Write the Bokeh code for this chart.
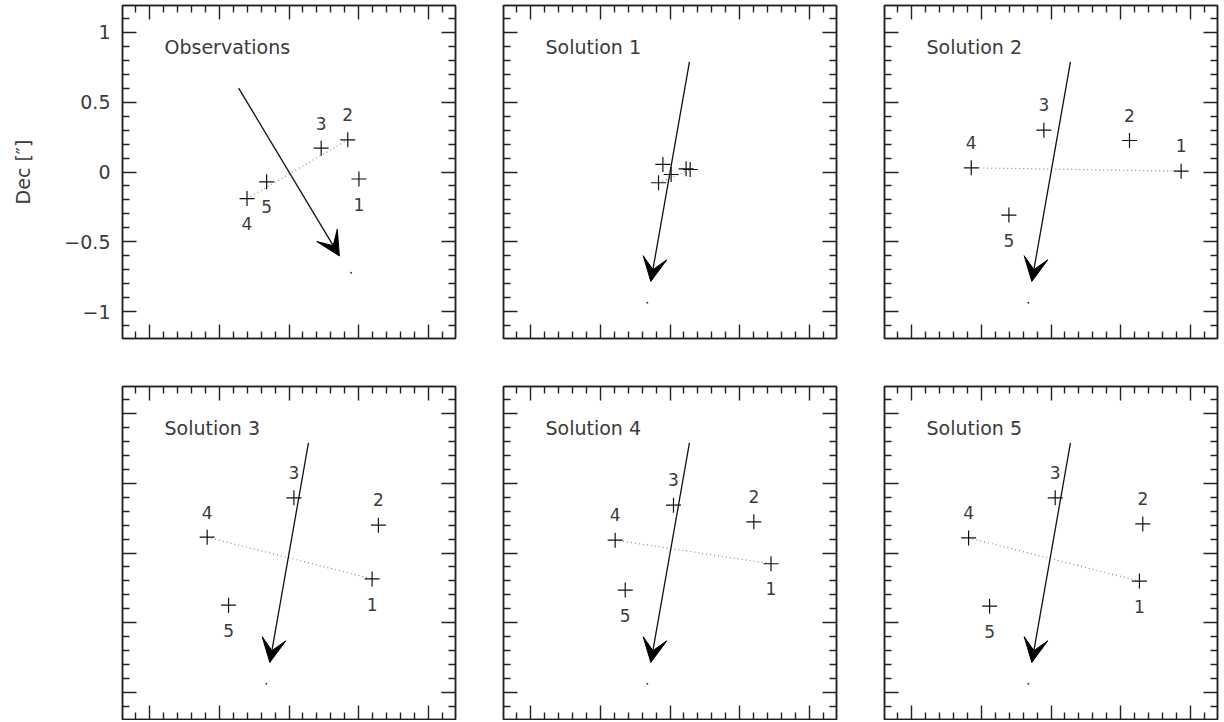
from bokeh.plotting import figure
from bokeh.models import (LinearAxis, FixedTicker, Range1d, Arrow, VeeHead,
                          ColumnDataSource, CustomJSTickFormatter, CustomLabelingPolicy)
from bokeh.layouts import row, column
from bokeh.embed import file_html
from bokeh.resources import INLINE
from bokeh.core.properties import value

# ---------------- data ----------------
panel_titles = ["Observations", "Solution 1", "Solution 2",
                "Solution 3", "Solution 4", "Solution 5"]
star_ids = ["1", "2", "3", "4", "5"]

obs_x = [0.50, 0.42, 0.23, -0.30, -0.16]
obs_y = [-0.05, 0.23, 0.17, -0.19, -0.07]
sol1_x = [0.144, 0.115, -0.051, -0.082, 0.008]
sol1_y = [0.018, 0.023, 0.054, -0.077, -0.018]
sol2_x = [0.93, 0.561, -0.051, -0.570, -0.301]
sol2_y = [0.006, 0.225, 0.299, 0.030, -0.308]
sol3_x = [0.594, 0.639, 0.035, -0.585, -0.432]
sol3_y = [-0.185, 0.199, 0.394, 0.113, -0.373]
sol4_x = [0.722, 0.599, 0.025, -0.392, -0.320]
sol4_y = [-0.077, 0.223, 0.342, 0.092, -0.265]
sol5_x = [0.632, 0.656, 0.030, -0.589, -0.439]
sol5_y = [-0.201, 0.208, 0.394, 0.108, -0.380]

# motion arrow (start x, start y, end x, end y) and end marker dot
obs_arrow = [-0.36, 0.60, 0.36, -0.60]
obs_dot = [0.444, -0.72]
sol_arrow = [0.139, 0.787, -0.137, -0.782]
sol_dot = [-0.162, -0.934]

# which pair of stars is joined by the dotted line
obs_link = ["4", "2"]
sol_link = ["4", "1"]

y_tick_labels = [-1, -0.5, 0, 0.5, 1]
minor_tick_values = [-1.1, -0.9, -0.8, -0.7, -0.6, -0.4, -0.3, -0.2, -0.1,
                     0.1, 0.2, 0.3, 0.4, 0.6, 0.7, 0.8, 0.9, 1.1]
axis_span = 1.19

# ---------------- placement / style ----------------
# label side for each star: +1 above, -1 below, 0 none
obs_side = [-1, 1, 1, -1, -1]
sol1_side = [0, 0, 0, 0, 0]
sol2_side = [1, 1, 1, 1, -1]
sol3_side = [-1, 1, 1, 1, -1]
sol4_side = [-1, 1, 1, 1, -1]
sol5_side = [-1, 1, 1, 1, -1]
label_gap = 0.18

INK = "#222222"
TEXT = "#3a3a3a"
FONT = "DejaVu Sans"

panels = [
    (panel_titles[0], obs_x, obs_y, obs_arrow, obs_dot, obs_link, obs_side),
    (panel_titles[1], sol1_x, sol1_y, sol_arrow, sol_dot, sol_link, sol1_side),
    (panel_titles[2], sol2_x, sol2_y, sol_arrow, sol_dot, sol_link, sol2_side),
    (panel_titles[3], sol3_x, sol3_y, sol_arrow, sol_dot, sol_link, sol3_side),
    (panel_titles[4], sol4_x, sol4_y, sol_arrow, sol_dot, sol_link, sol4_side),
    (panel_titles[5], sol5_x, sol5_y, sol_arrow, sol_dot, sol_link, sol5_side),
]

col_borders = [(122, 24), (24, 24), (24, 2)]
row_borders = [(5, 24), (24, 1)]

NO_LABELS = """
const n = indices.size;
for (let i = 0; i < n; i++) { indices.unset(i); }
return indices;
"""


def style_axis(ax, labels=False):
    ax.ticker = FixedTicker(ticks=y_tick_labels, minor_ticks=minor_tick_values)
    ax.major_tick_in = 14
    ax.major_tick_out = 0
    ax.minor_tick_in = 7
    ax.minor_tick_out = 0
    ax.major_tick_line_color = INK
    ax.minor_tick_line_color = INK
    ax.major_tick_line_width = 1.4
    ax.minor_tick_line_width = 1.4
    ax.axis_line_color = INK
    ax.axis_line_width = 1.5
    if labels:
        ax.formatter = CustomJSTickFormatter(
            code='return tick < 0 ? "\\u2212" + Math.abs(tick) : String(tick);')
        ax.major_label_text_font = FONT
        ax.major_label_text_font_size = "19px"
        ax.major_label_text_color = TEXT
        ax.major_label_standoff = 12
    else:
        ax.major_label_policy = CustomLabelingPolicy(code=NO_LABELS)
        ax.major_label_text_font_size = "0px"
        ax.major_label_standoff = 0


figs = []
for k, (title, xs, ys, arr, dot, link, side) in enumerate(panels):
    r, c = divmod(k, 3)
    p = figure(frame_width=333, frame_height=333,
               x_range=Range1d(-axis_span, axis_span),
               y_range=Range1d(-axis_span, axis_span),
               min_border_left=col_borders[c][0], min_border_right=col_borders[c][1],
               min_border_top=row_borders[r][0], min_border_bottom=row_borders[r][1],
               output_backend="svg", toolbar_location=None, tools="",
               background_fill_color="white", border_fill_color="white")
    p.xgrid.visible = False
    p.ygrid.visible = False
    p.outline_line_color = INK
    p.outline_line_width = 1.5

    style_axis(p.xaxis[0])
    style_axis(p.yaxis[0], labels=(k == 0))
    if k == 0:
        p.yaxis[0].axis_label = "Dec [\u2033]"
        p.yaxis[0].axis_label_text_font = FONT
        p.yaxis[0].axis_label_text_font_size = "19px"
        p.yaxis[0].axis_label_text_font_style = "normal"
        p.yaxis[0].axis_label_text_color = TEXT
        p.yaxis[0].axis_label_standoff = 27
    top = LinearAxis()
    style_axis(top)
    p.add_layout(top, "above")
    right = LinearAxis()
    style_axis(right)
    p.add_layout(right, "right")

    # dotted line between the linked pair
    i0, i1 = star_ids.index(link[0]), star_ids.index(link[1])
    p.line([xs[i0], xs[i1]], [ys[i0], ys[i1]], line_color="#8a8a8a",
           line_dash="1 3", line_width=1.2)

    # motion arrow
    src = ColumnDataSource(dict(xs=[arr[0]], ys=[arr[1]], xe=[arr[2]], ye=[arr[3]]))
    p.add_layout(Arrow(end=VeeHead(size=24, fill_color="black", line_color="black",
                                   line_width=1),
                       x_start="xs", y_start="ys", x_end="xe", y_end="ye",
                       source=src, line_color="#111111", line_width=1.3))
    p.scatter([dot[0]], [dot[1]], marker="circle", size=2, fill_color="#444444",
              line_color=None)

    # stars
    p.scatter(xs, ys, marker="cross", size=15, line_color="#111111", line_width=1.2)

    lx = [x for x, s in zip(xs, side) if s != 0]
    ly = [y + s * label_gap for y, s in zip(ys, side) if s != 0]
    lt = [t for t, s in zip(star_ids, side) if s != 0]
    if lt:
        p.text(lx, ly, text=lt, text_font=value(FONT), text_font_size="17px",
               text_color=TEXT, text_align="center", text_baseline="middle")

    p.text([-0.89], [0.895], text=[title], text_font=value(FONT),
           text_font_size="19px", text_color=TEXT,
           text_align="left", text_baseline="middle")
    figs.append(p)

layout = column(row(*figs[:3]), row(*figs[3:]))
open("out.html", "w").write(file_html(layout, INLINE))
